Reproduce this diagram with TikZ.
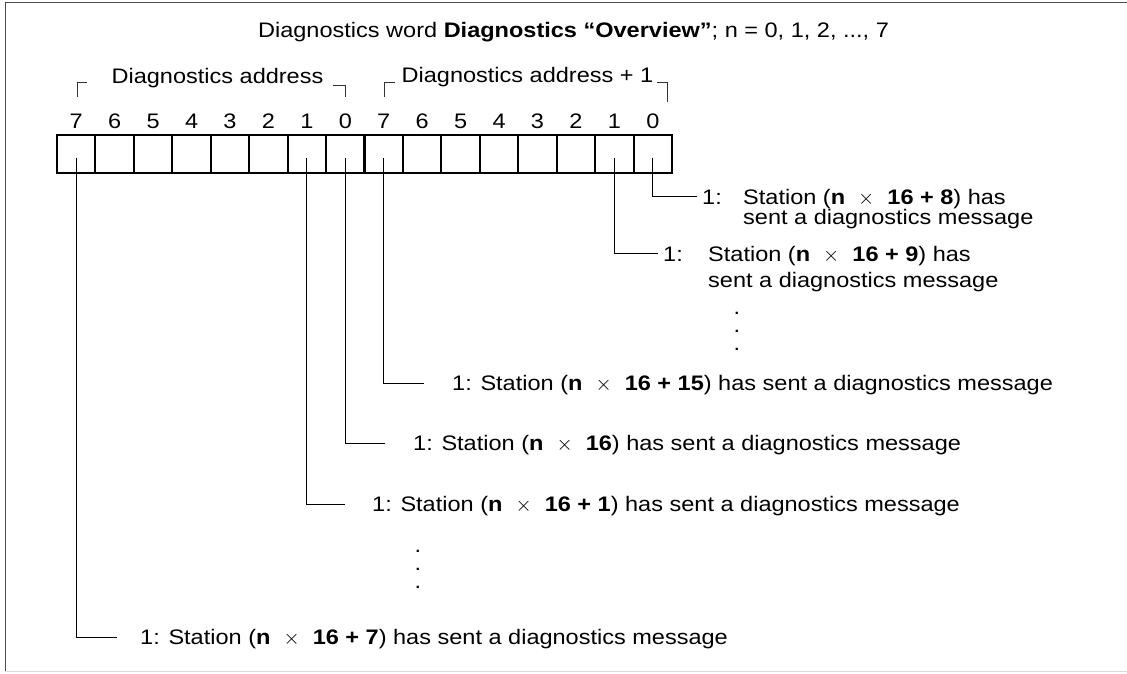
\documentclass[tikz,border=0pt]{standalone}
\usepackage{fontspec}
\setmainfont[FakeStretch=1.12]{Liberation Sans}
\usepackage{tikz}
\usetikzlibrary{positioning}
\newcommand{\tms}{~~$\times$~~}

\begin{document}
\begin{tikzpicture}[x=1pt, y=-1pt, font=\fontsize{21}{25}\selectfont,
    cell/.style={draw, line width=1.9pt, minimum width=38.44pt, minimum height=38pt, inner sep=0pt, outer sep=0pt},
    bitno/.style={inner sep=0pt, anchor=base},
    txt/.style={inner sep=0pt, anchor=base west},
    dots/.style={inner sep=0pt, align=center, font=\fontsize{21}{18}\selectfont},
    leader/.style={line width=0.9pt},
    brk/.style={line width=0.9pt, black!80}]
    \useasboundingbox (0,0) rectangle (1127,673);
    % 边框
    \draw[line width=1pt, black!70] (1127,2) -- (5,2) -- (5,671.5);
    \draw[line width=1pt, black!15] (5,671.5) -- (1127,671.5);
    % 标题
    \node[inner sep=0pt, anchor=base] (title) at (573.5,37.3)
        {Diagnostics word \textbf{Diagnostics ``Overview''}; n = 0, 1, 2, ..., 7};
    % 两个字节的地址
    \node[inner sep=0pt, anchor=base] (hiaddr) at (217.5,83.3) {Diagnostics address};
    \node[inner sep=0pt, anchor=base] (loaddr) at (527.5,82) {Diagnostics address + 1};
    \draw[brk] (77,97) -- (77,82) -- (87,82);
    \draw[brk] (333,85) -- (345,85) -- (345,97);
    \draw[brk] (384,97) -- (384,82) -- (395,82);
    \draw[brk] (657,82) -- (667,82) -- (667,102);
    % 16 个位
    \foreach \b [count=\i from 0] in {7,...,0} {
        \node[cell] (a\b) at (57+38.44*\i+19.22,154) {};
        \node[bitno] (na\b) at (a\b.center |- 0,128.3) {\b};
        \node[cell] (b\b) at (364.5+38.44*\i+19.22,154) {};
        \node[bitno] (nb\b) at (b\b.center |- 0,128.3) {\b};
    }
    \draw[line width=3pt] (a0.north east) -- (a0.south east);
    % 说明文字
    \node[txt] (k8) at (702,204) {1:};
    \node[txt] (t8) at (743,204) {Station (\textbf{n}\tms\textbf{16 + 8}) has};
    \node[txt] (u8) at (743,224) {sent a diagnostics message};
    \node[txt] (k9) at (663,261) {1:};
    \node[txt] (t9) at (708,261) {Station (\textbf{n}\tms\textbf{16 + 9}) has};
    \node[txt] (u9) at (708,287) {sent a diagnostics message};
    \node[txt] (s15) at (452,390.5) {1: Station (\textbf{n}\tms\textbf{16 + 15}) has sent a diagnostics message};
    \node[txt] (s0) at (413,450.5) {1: Station (\textbf{n}\tms\textbf{16}) has sent a diagnostics message};
    \node[txt] (s1) at (372,511.5) {1: Station (\textbf{n}\tms\textbf{16 + 1}) has sent a diagnostics message};
    \node[txt] (s7) at (140,644.5) {1: Station (\textbf{n}\tms\textbf{16 + 7}) has sent a diagnostics message};
    % 省略号
    \node[dots] (gap1) at (737,331) {.\\.\\.};
    \node[dots] (gap2) at (418,569) {.\\.\\.};
    % 引线
    \draw[leader] ([yshift=-4pt]b0.center) |- ([xshift=-5pt, yshift=7.5pt]k8.base west);
    \draw[leader] ([yshift=-4pt]b1.center) |- ([xshift=-5pt, yshift=7.5pt]k9.base west);
    \draw[leader] ([yshift=-4pt]b7.center) |- ([xshift=-28pt, yshift=7.5pt]s15.base west);
    \draw[leader] ([yshift=-4pt]a0.center) |- ([xshift=-28pt, yshift=7.5pt]s0.base west);
    \draw[leader] ([yshift=-4pt]a1.center) |- ([xshift=-27pt, yshift=7.5pt]s1.base west);
    \draw[leader] ([yshift=-4pt]a7.center) |- ([xshift=-23pt, yshift=7.5pt]s7.base west);
\end{tikzpicture}
\end{document}
